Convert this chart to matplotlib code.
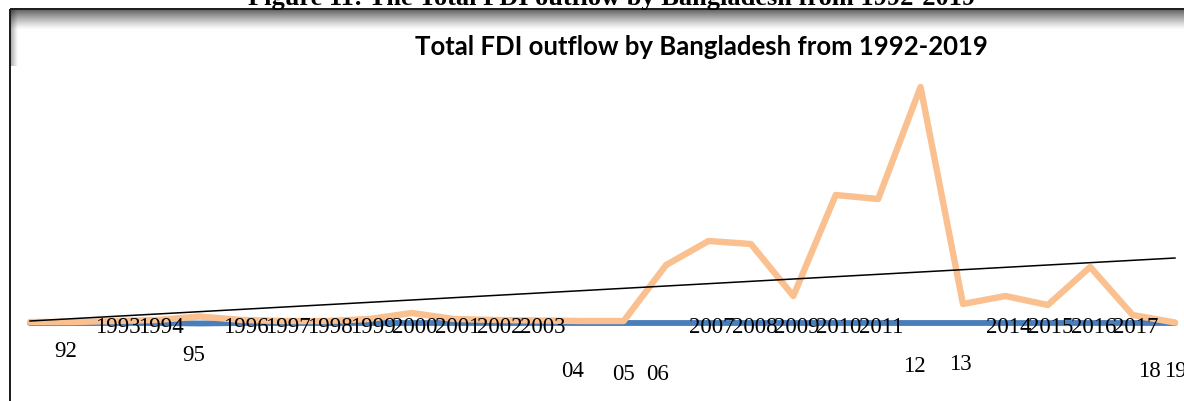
import matplotlib.pyplot as plt
import numpy as np

# FDI outflow by Bangladesh, US$ million
years = list(range(1992, 2020))
total_outflow = [0.2, 0.2, 0.4, 0.6, 1.3, 0.6, 0.4, 0.4, 0.8, 2.0,
                 0.8, 0.6, 0.5, 0.4, 0.4, 11.6, 16.4, 15.8, 5.4, 25.6,
                 24.8, 47.2, 3.8, 5.4, 3.6, 11.2, 1.6, 0.1]
equity_outflow = [0.0, 0.0, 0.0, 0.0, -0.1, 0.0, 0.0, 0.0, 0.0, 0.0,
                  0.0, 0.0, 0.0, 0.0, 0.0, 0.0, 0.0, 0.0, 0.0, 0.0,
                  0.0, 0.0, 0.0, 0.0, 0.0, 0.0, 0.0, 0.0]
# linear trend, values at 1992 and 2019
trend = [0.4, 13.0]

# years whose axis label is written short and dropped below the line
short_labels = {
    1992: ('92', 0.83, -6.6),
    1995: ('95', 3.87, -7.4),
    2004: ('04', 12.8, -10.6),
    2005: ('05', 14.0, -11.2),
    2006: ('06', 14.8, -11.2),
    2012: ('12', 20.85, -9.6),
    2013: ('13', 21.95, -9.2),
    2018: ('18', 26.4, -10.6),
    2019: ('19', 27.02, -10.6),
}

W, H = 1184, 402
fig = plt.figure(figsize=(W / 100, H / 100), dpi=100)

# frame, shading and caption in pixel coordinates
bg = fig.add_axes([0, 0, 1, 1])
bg.set_xlim(0, W)
bg.set_ylim(H, 0)
bg.axis('off')

top_shade = np.zeros((40, 1, 4))
top_shade[:, 0, 3] = np.linspace(0.65, 0.0, 40) ** 1.2
bg.imshow(top_shade, extent=(10, W, 31, 11), aspect='auto',
          interpolation='bilinear', zorder=1)
left_shade = np.zeros((1, 20, 4))
left_shade[0, :, 3] = np.linspace(0.35, 0.0, 20)
bg.imshow(left_shade, extent=(10, 18, 67, 11), aspect='auto',
          interpolation='bilinear', zorder=1)
bg.set_xlim(0, W)
bg.set_ylim(H, 0)

bg.plot([9.5, W], [10, 10], color='#1a1a1a', lw=1.4, zorder=2,
        solid_capstyle='butt')
bg.plot([9.5, 9.5], [10, H], color='#1a1a1a', lw=1.4, zorder=2,
        solid_capstyle='butt')

fig.text(612 / W, (H - 5) / H,
         'Figure 11: The Total FDI outflow by Bangladesh from 1992-2019',
         ha='center', va='baseline', fontsize=19, fontweight='bold',
         family='Liberation Serif')

fig.text(701 / W, (H - 47) / H, 'Total FDI outflow by Bangladesh from 1992-2019',
         ha='center', va='center', fontsize=18.5, fontweight='bold',
         family='Lato')

# plot area
ax = fig.add_axes([30 / W, 0, (1175 - 30) / W, (H - 80) / H])
ax.set_xlim(0, len(years) - 1)
ax.set_ylim(-15.6, 48.8)
ax.axis('off')

x = np.arange(len(years))
ax.plot(x, equity_outflow, color='#4A7EBB', lw=4.2, clip_on=False,
        solid_capstyle='round', solid_joinstyle='round', zorder=2)
ax.plot(x, total_outflow, color='#FAC090', lw=4.6, clip_on=False,
        solid_capstyle='round', solid_joinstyle='round', zorder=3)
ax.plot([x[0], x[-1]], trend, color='black', lw=1.1, clip_on=False, zorder=4)

label_font = dict(family='Liberation Serif', fontsize=16.5, color='black')
for i, yr in enumerate(years):
    if yr in short_labels:
        text, xpos, ypos = short_labels[yr]
        ax.text(xpos, ypos, text, ha='center', va='baseline', zorder=5,
                clip_on=False, **label_font)
    else:
        ax.text(i + 1.08, -1.9, str(yr), ha='center', va='baseline', zorder=5,
                clip_on=False, **label_font)

fig.savefig('out.png', dpi=100)
